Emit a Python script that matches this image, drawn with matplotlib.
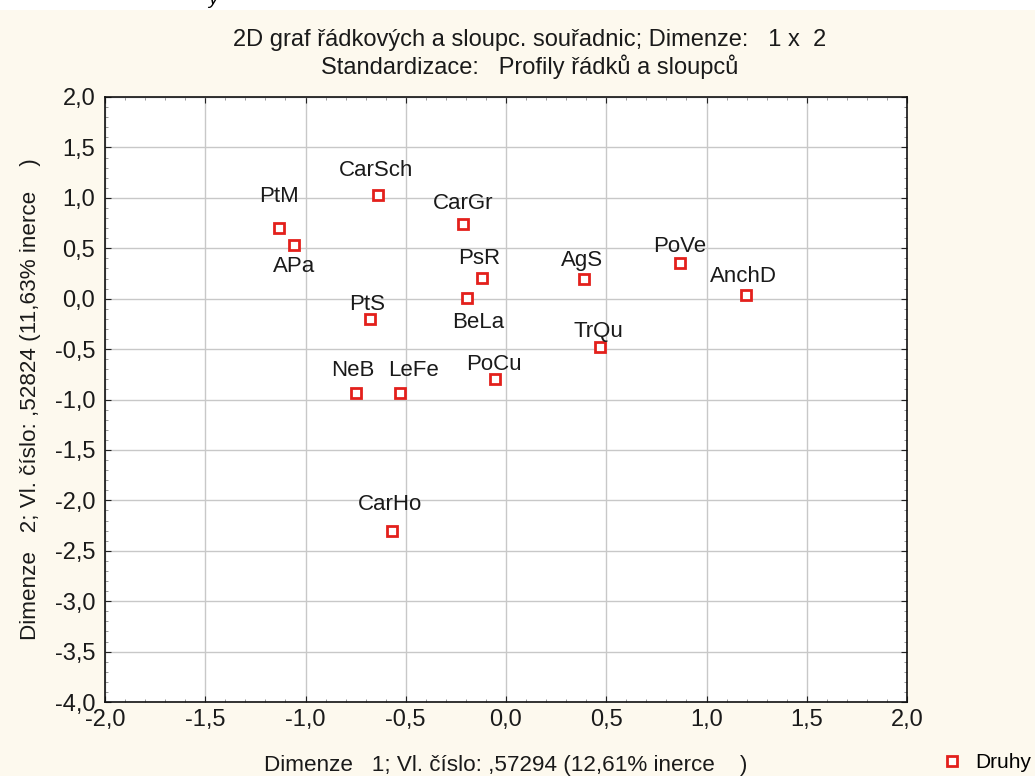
# 2D graf řádkových a sloupcových souřadnic (korespondenční analýza)

import matplotlib
matplotlib.use('Agg')
import matplotlib.pyplot as plt
from matplotlib.ticker import MultipleLocator, FuncFormatter

plt.rcParams['font.family'] = ['Liberation Sans', 'DejaVu Sans']

# data
druhy = ['PtM', 'APa', 'CarSch', 'CarGr', 'PsR', 'BeLa', 'PtS', 'AgS', 'PoVe',
         'AnchD', 'TrQu', 'NeB', 'LeFe', 'PoCu', 'CarHo']
dim1 = [-1.134, -1.059, -0.637, -0.216, -0.122, -0.193, -0.680, 0.390, 0.869,
        1.198, 0.467, -0.748, -0.527, -0.057, -0.570]
dim2 = [0.704, 0.536, 1.026, 0.738, 0.202, 0.004, -0.204, 0.200, 0.350,
        0.034, -0.480, -0.938, -0.938, -0.800, -2.300]
# posun popisků (px)
posun = [(0, 31), (0, -22), (-2, 25), (0, 21), (-2, 20), (11, -24), (-3, 15),
         (-2, 18), (-1, 17), (-3, 19), (-1, 16), (-3, 23), (13, 23), (-1, 15), (-2, 26)]

fig = plt.figure(figsize=(10.35, 7.76), dpi=100)
fig.patch.set_facecolor('#fdf9ee')
fig.patches.append(plt.Rectangle((0, 1 - 10 / 776), 1, 10 / 776, transform=fig.transFigure,
                                 facecolor='white', edgecolor='none', zorder=0))
fig.text(213 / 1035, 1.0, 'y', fontsize=14, style='italic', ha='center', va='center')

ax = fig.add_axes([105 / 1035, 1 - 702 / 776, 802 / 1035, 605 / 776])
ax.set_facecolor('white')

ax.plot(dim1, dim2, 's', ls='none', markersize=7, markerfacecolor='white',
        markeredgecolor='#e3201c', markeredgewidth=2, label='Druhy', zorder=3)
for n, x, y, (dx, dy) in zip(druhy, dim1, dim2, posun):
    ax.annotate(n, (x, y), xytext=(dx, dy), textcoords='offset pixels',
                ha='center', va='center', fontsize=16, color='#1a1a1a')

ax.set_xlim(-2, 2)
ax.set_ylim(-4, 2)
ax.xaxis.set_major_locator(MultipleLocator(0.5))
ax.yaxis.set_major_locator(MultipleLocator(0.5))
ax.xaxis.set_minor_locator(MultipleLocator(0.1))
ax.yaxis.set_minor_locator(MultipleLocator(0.1))
fmt = FuncFormatter(lambda v, p: f'{v:.1f}'.replace('.', ','))
ax.xaxis.set_major_formatter(fmt)
ax.yaxis.set_major_formatter(fmt)
ax.tick_params(which='both', direction='in', top=True, right=True, labelsize=17,
               colors='#222222', labelcolor='#1a1a1a')
ax.tick_params(which='major', length=4)
ax.tick_params(axis='x', which='major', pad=5)
ax.tick_params(axis='y', which='major', pad=7)
ax.tick_params(which='minor', length=2.5, color='#888888')
ax.grid(True, which='major', color='#c8c8c8', lw=1)
ax.set_axisbelow(True)
for s in ax.spines.values():
    s.set_color('#111111')
    s.set_linewidth(1.2)

ax.set_xlabel('Dimenze   1; Vl. číslo: ,57294 (12,61% inerce    )', fontsize=16.2,
              labelpad=17, color='#1a1a1a')
ax.set_ylabel('Dimenze   2; Vl. číslo: ,52824 (11,63% inerce    )', fontsize=16.2,
              labelpad=10, color='#1a1a1a')

fig.text(530 / 1035, 1 - 40 / 776, '2D graf řádkových a sloupc. souřadnic; Dimenze:   1 x  2',
         ha='center', va='center', fontsize=17, color='#1a1a1a')
fig.text(530 / 1035, 1 - 67 / 776, 'Standardizace:   Profily řádků a sloupců',
         ha='center', va='center', fontsize=17, color='#1a1a1a')

ax.legend(loc='center left', bbox_to_anchor=(944 / 1035, 1 - 763 / 776),
          bbox_transform=fig.transFigure, frameon=False, handlelength=0.8,
          handletextpad=0.7, borderpad=0, borderaxespad=0, prop={'size': 15})

fig.savefig('out.png', dpi=100, facecolor=fig.get_facecolor())
